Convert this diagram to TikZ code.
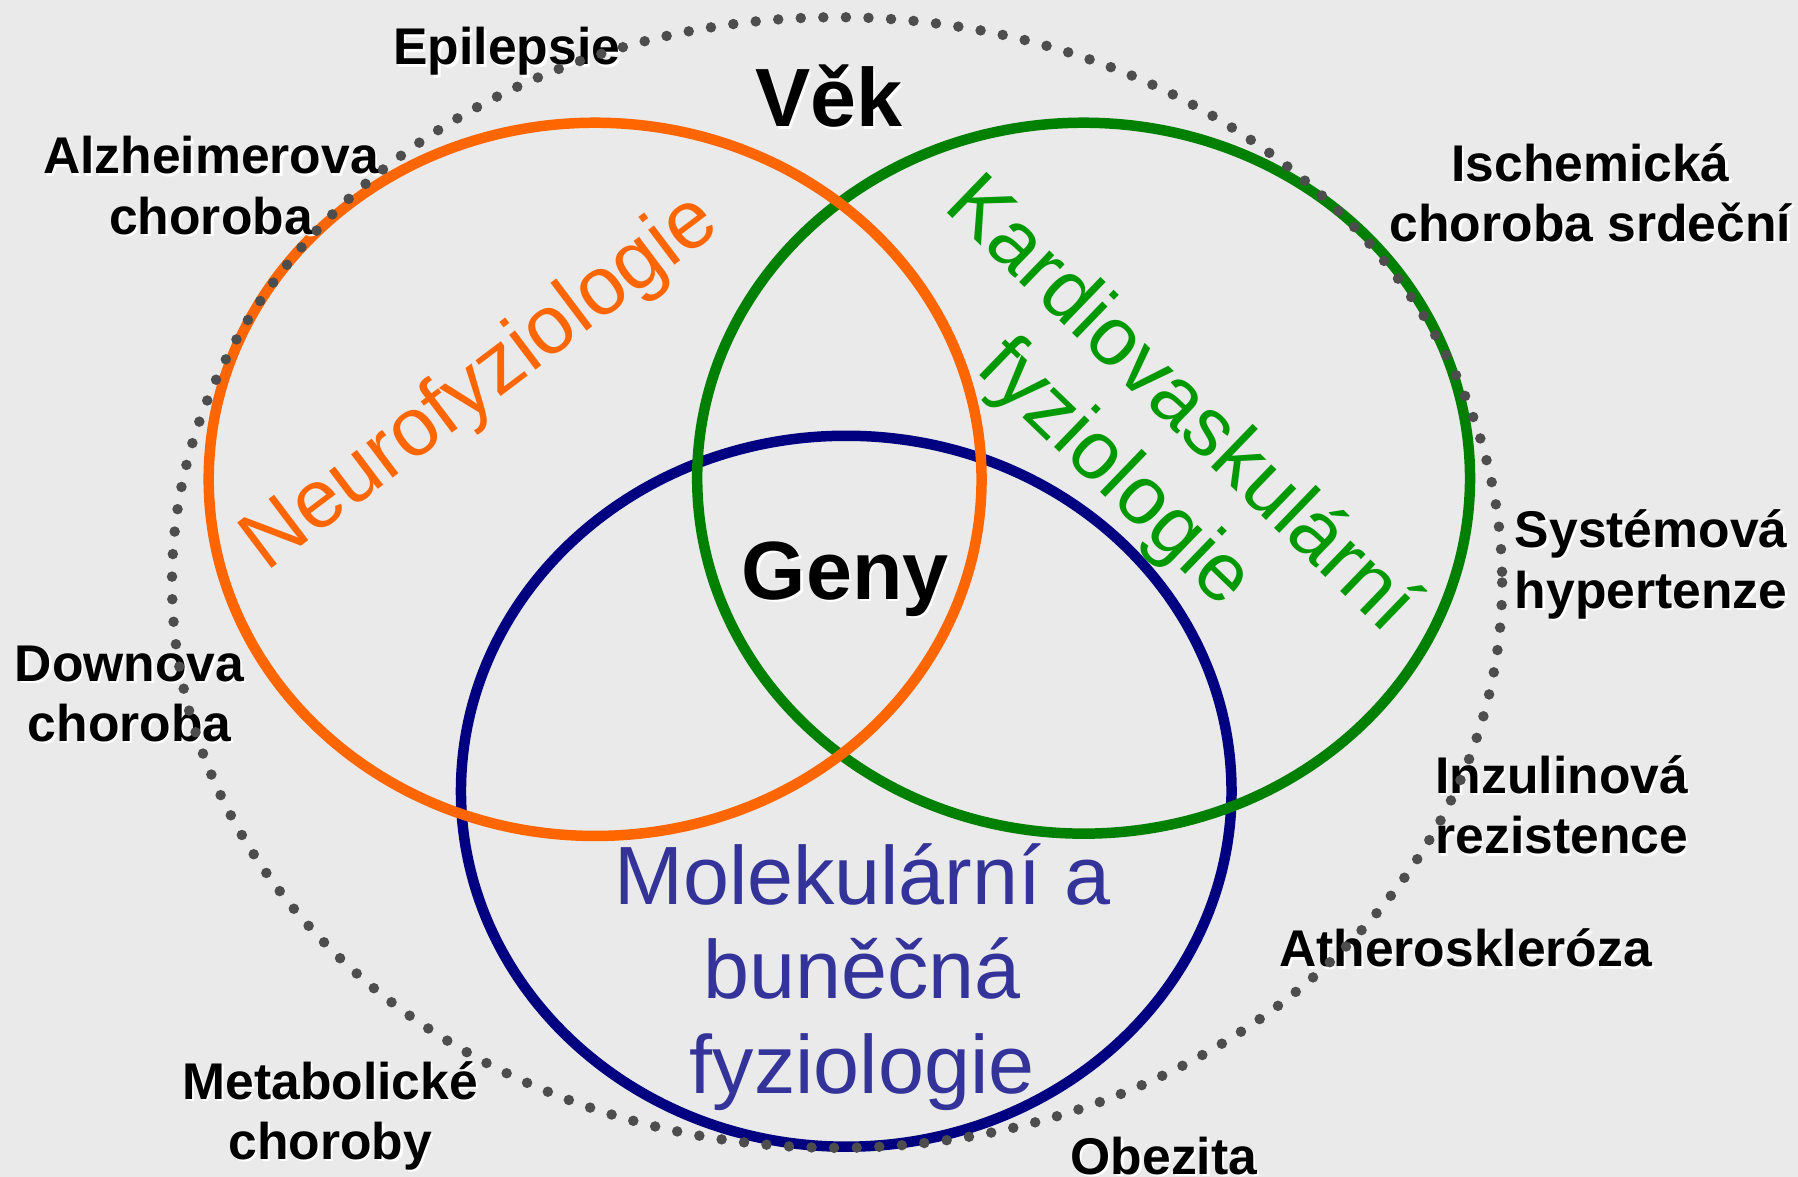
\documentclass[tikz,border=0pt]{standalone}
\usepackage{fontspec}
\setmainfont{Liberation Sans}

\definecolor{bgGray}{RGB}{234,234,234}
\definecolor{neuroOrange}{RGB}{255,102,0}
\definecolor{cardioGreen}{RGB}{0,128,0}
\definecolor{cardioText}{RGB}{0,153,0}
\definecolor{cellNavy}{RGB}{0,0,128}
\definecolor{cellText}{RGB}{51,51,153}
\definecolor{dotGray}{RGB}{77,77,77}

\tikzset{
  field/.style={line width=2.6pt},
  fieldtext/.style={font=\fontsize{20.5}{23.5}\selectfont, align=center, inner sep=0pt},
  disease/.style={font=\fontsize{12.8}{15}\selectfont\bfseries, align=center, inner sep=0pt},
  core/.style={font=\fontsize{20.5}{24}\selectfont\bfseries, inner sep=0pt},
}

% black label with a small white drop shadow: style, name, position, text
\newcommand{\shadowed}[4]{%
  \node[#1, text=white] at ([shift={(2,2)}]#3) {#4};
  \node[#1] (#2) at (#3) {#4};}

\begin{document}
\begin{tikzpicture}[x=0.01cm, y=-0.01cm]
    % Background and frame
    \fill[bgGray] (0,0) rectangle (1568,1026);
    \useasboundingbox (0,0) rectangle (1568,1026);

    % The three fields
    \draw[field, cellNavy]    (738,690) ellipse [x radius=336, y radius=310];
    \draw[field, cardioGreen] (945,417) ellipse [x radius=337, y radius=310];
    \draw[field, neuroOrange] (519,418) ellipse [x radius=337, y radius=311];

    % Field names
    \node[fieldtext, text=neuroOrange, rotate=37]  (neuro)  at (420,335) {Neurofyziologie};
    \node[fieldtext, text=cardioText, rotate=-44]  (cardio) at (1000,384) {Kardiovaskulární\\fyziologie};
    \node[fieldtext, text=cellText]                (cell)   at (752,852) {Molekulární a\\buněčná\\fyziologie};

    % Common factors
    \shadowed{core}{vek}{723,84}{Věk}
    \shadowed{core}{geny}{737,505}{Geny}

    % Diseases round the outside
    \shadowed{disease}{epi}{442,45}{Epilepsie}
    \shadowed{disease}{alz}{184,162}{Alzheimerova\\choroba}
    \shadowed{disease}{isch}{1387,168}{Ischemická\\choroba srdeční}
    \shadowed{disease}{syst}{1440,492}{Systémová\\hypertenze}
    \shadowed{disease}{down}{113,605}{Downova\\choroba}
    \shadowed{disease}{inz}{1362,702}{Inzulinová\\rezistence}
    \shadowed{disease}{ath}{1278,827}{Atheroskleróza}
    \shadowed{disease}{meta}{288,973}{Metabolické\\choroby}
    \shadowed{disease}{obez}{1015,1008}{Obezita}

    % Dotted outer boundary, drawn on top
    \draw[dotGray, line width=2.6pt, line cap=round, dash pattern=on 0pt off 5.6pt]
        (730,508) ellipse [x radius=580, y radius=493];
\end{tikzpicture}
\end{document}
